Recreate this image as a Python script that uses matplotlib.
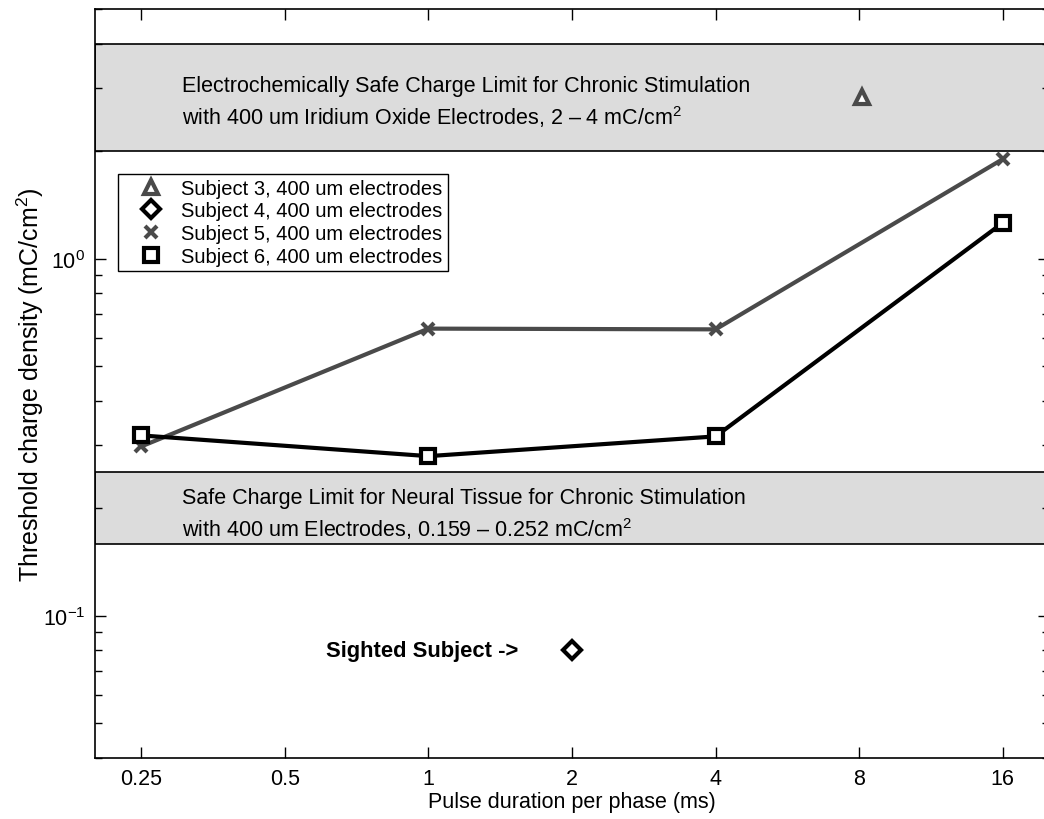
import numpy as np
import matplotlib
matplotlib.use("Agg")
import matplotlib.pyplot as plt
from matplotlib.lines import Line2D
from matplotlib.ticker import FixedLocator, FixedFormatter, LogLocator, NullLocator

plt.rcParams['font.family'] = ['Liberation Sans', 'DejaVu Sans']
plt.rcParams['mathtext.fontset'] = 'custom'
plt.rcParams['mathtext.rm'] = 'Liberation Sans'
plt.rcParams['mathtext.it'] = 'Liberation Sans:italic'

# pulse durations (ms) and threshold charge densities (mC/cm^2)
pulse = [0.25, 1, 4, 16]
subj5 = [0.298, 0.637, 0.634, 1.90]
subj6 = [0.320, 0.280, 0.318, 1.26]
subj3_x, subj3_y = [8.1], [2.83]
subj4_x, subj4_y = [2], [0.08]

x_ticks = [0.25, 0.5, 1, 2, 4, 8, 16]
x_labels = ['0.25', '0.5', '1', '2', '4', '8', '16']

electrode_band = (2.0, 4.0)
tissue_band = (0.159, 0.252)

fig = plt.figure(figsize=(10.44, 8.2), dpi=100)
ax = fig.add_axes([95 / 1044, 1 - 759 / 820, (1049 - 95) / 1044, (759 - 10) / 820])
ax.set_xscale('log')
ax.set_yscale('log')
ax.set_xlim(0.2, 20)
ax.set_ylim(0.04, 5)

band_kw = dict(facecolor='#dcdcdc', edgecolor='black', linewidth=1.2, zorder=0)
ax.axhspan(*electrode_band, **band_kw)
ax.axhspan(*tissue_band, **band_kw)

ax.text(0.304, 2.74, 'Electrochemically Safe Charge Limit for Chronic Stimulation\n'
        'with 400 um Iridium Oxide Electrodes, 2 \u2013 4 mC/cm$^2$',
        fontsize=15.5, va='center', ha='left', linespacing=1.34)
ax.text(0.304, 0.193, 'Safe Charge Limit for Neural Tissue for Chronic Stimulation\n'
        'with 400 um Electrodes, 0.159 \u2013 0.252 mC/cm$^2$',
        fontsize=15.5, va='center', ha='left', linespacing=1.34)
ax.text(0.61, 0.08, 'Sighted Subject ->', fontsize=15.8, fontweight='bold',
        va='center', ha='left')

# connecting lines
ax.plot(pulse, subj5, color='#4a4a4a', lw=3, zorder=2)
ax.plot(pulse, subj6, color='black', lw=3, zorder=3)

ax.plot(subj3_x, subj3_y, ls='none', marker='^', ms=10, mfc='white',
        mec='#4a4a4a', mew=3, zorder=4)
ax.plot(subj4_x, subj4_y, ls='none', marker='D', ms=9, mfc='white',
        mec='black', mew=3, zorder=4)
ax.plot(pulse, subj5, ls='none', marker='x', ms=8, mec='#4a4a4a', mew=3, zorder=4)
ax.plot(pulse, subj6, ls='none', marker='s', ms=10, mfc='white',
        mec='black', mew=3, zorder=5)

handles = [
    Line2D([], [], ls='none', marker='^', ms=10, mfc='white', mec='#4a4a4a', mew=3),
    Line2D([], [], ls='none', marker='D', ms=9, mfc='white', mec='black', mew=3),
    Line2D([], [], ls='none', marker='x', ms=8, mec='#4a4a4a', mew=3),
    Line2D([], [], ls='none', marker='s', ms=10, mfc='white', mec='black', mew=3),
]
labels = ['Subject 3, 400 um electrodes', 'Subject 4, 400 um electrodes',
          'Subject 5, 400 um electrodes', 'Subject 6, 400 um electrodes']
leg = ax.legend(handles, labels, loc='upper left', bbox_to_anchor=(0.024, 0.78),
                fontsize=14.5, frameon=True, fancybox=False, framealpha=1,
                edgecolor='black', borderpad=0.25, labelspacing=0.18,
                handletextpad=0.1, handlelength=2.8, borderaxespad=0)
leg.get_frame().set_linewidth(1.0)

ax.xaxis.set_major_locator(FixedLocator(x_ticks))
ax.xaxis.set_major_formatter(FixedFormatter(x_labels))
ax.xaxis.set_minor_locator(NullLocator())
ax.yaxis.set_major_locator(LogLocator(base=10))
ax.yaxis.set_minor_locator(LogLocator(base=10, subs=np.arange(2, 10)))

ax.tick_params(which='both', direction='in', top=True, right=True, labelsize=15.5)
ax.tick_params(which='major', length=8, width=1, pad=7)
ax.tick_params(which='minor', length=5, width=1)
for s in ax.spines.values():
    s.set_linewidth(1.2)

ax.set_xlabel('Pulse duration per phase (ms)', fontsize=15.5, labelpad=2)
ax.set_ylabel('Threshold charge density (mC/cm$^2$)', fontsize=18, labelpad=-2)

fig.savefig('out.png', dpi=100)
